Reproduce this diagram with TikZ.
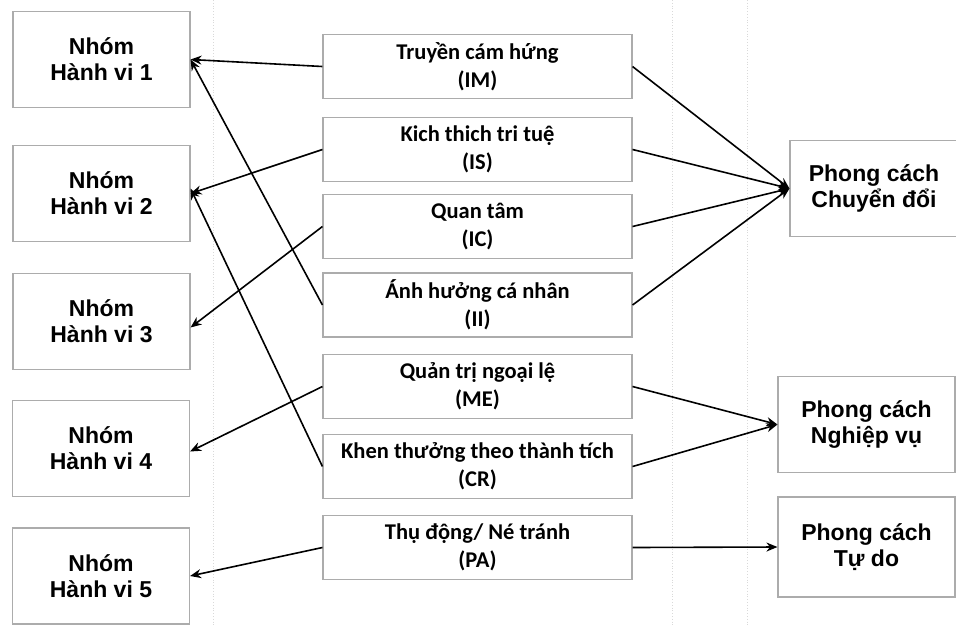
\documentclass[tikz,border=0pt]{standalone}
\usepackage{fontspec}
\setmainfont{Liberation Sans}
\newfontfamily\calfont{Carlito}
\usetikzlibrary{arrows.meta}
\begin{document}
\begin{tikzpicture}[x=1pt,y=-1pt,
  box/.style={draw=gray!65,line width=1.1pt,fill=white,align=center,inner sep=0pt},
  sidebox/.style={box,minimum width=177pt,minimum height=96pt,font=\fontsize{23}{26}\selectfont\bfseries},
  midbox/.style={box,minimum width=309pt,minimum height=64pt,font=\calfont\fontsize{22.5}{28}\selectfont\bfseries},
  grid/.style={gray!30,dotted,line width=0.8pt},
  conn/.style={line width=1.6pt,-{Stealth[length=11pt,width=9pt,inset=3.5pt]}}]
\useasboundingbox (0,0) rectangle (956,625);
\fill[white] (0,0) rectangle (956,625);
\draw[grid] (213,0) -- (213,625);
\draw[grid] (672,0) -- (672,625);
\draw[grid] (747,0) -- (747,625);
% left
\node[sidebox] (L1) at (101.5,59.5) {Nhóm\\Hành vi 1};
\node[sidebox] (L2) at (101.5,193.5) {Nhóm\\Hành vi 2};
\node[sidebox] (L3) at (101.5,321.5) {Nhóm\\Hành vi 3};
\node[sidebox] (L4) at (101,448.5) {Nhóm\\Hành vi 4};
\node[sidebox] (L5) at (101,576) {Nhóm\\Hành vi 5};
% middle
\node[midbox] (IM) at (477.5,66.5) {Truyền cám hứng\\(IM)};
\node[midbox] (IS) at (477.5,149.5) {Kich thich tri tuệ\\(IS)};
\node[midbox] (IC) at (477.5,226.5) {Quan tâm\\(IC)};
\node[midbox] (II) at (477.5,305) {Ánh hưởng cá nhân\\(II)};
\node[midbox] (ME) at (477.5,386.5) {Quản trị ngoại lệ\\(ME)};
\node[midbox] (CR) at (477.5,466.5) {Khen thưởng theo thành tích\\(CR)};
\node[midbox] (PA) at (477.5,547.5) {Thụ động/ Né tránh\\(PA)};
% right
\node[sidebox,minimum width=168pt] (R1) at (874,188.5) {Phong cách\\Chuyển đổi};
\node[sidebox] (R2) at (866.5,424.5) {Phong cách\\Nghiệp vụ};
\node[sidebox,minimum height=100pt] (R3) at (866.5,547) {Phong cách\\Tự do};
% left connectors
\draw[conn] (IM.west) -- (L1.east);
\draw[conn] (IS.west) -- (L2.east);
\draw[conn] (IC.west) -- ([yshift=-6pt]L3.east);
\draw[conn] (II.west) -- (L1.east);
\draw[conn] (ME.west) -- ([yshift=-3pt]L4.east);
\draw[conn] (CR.west) -- ([yshift=5pt]L2.east);
\draw[conn] (PA.west) -- (L5.east);
% right connectors
\draw[conn] (IM.east) -- (R1.west);
\draw[conn] (IS.east) -- (R1.west);
\draw[conn] (IC.east) -- (R1.west);
\draw[conn] (II.east) -- (R1.west);
\draw[conn] (ME.east) -- (R2.west);
\draw[conn] (CR.east) -- (R2.west);
\draw[conn] (PA.east) -- (R3.west);
\end{tikzpicture}
\end{document}
